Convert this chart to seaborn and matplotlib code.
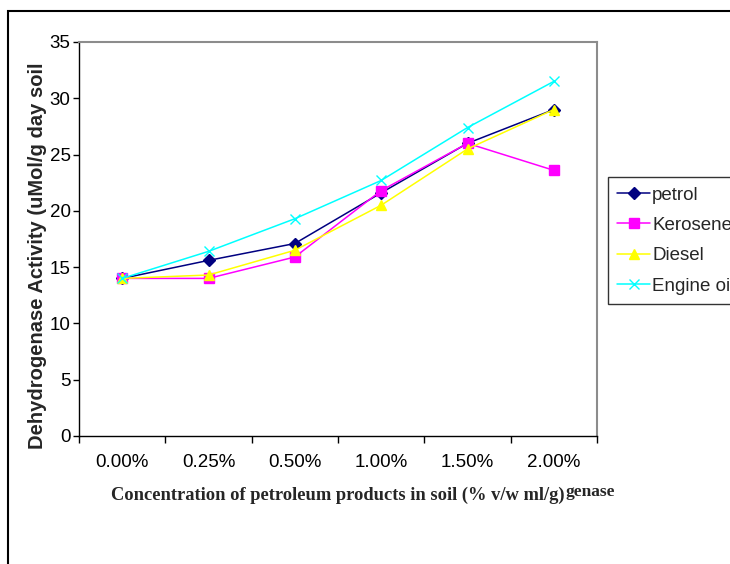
import numpy as np
import pandas as pd
import matplotlib
matplotlib.use("Agg")
import matplotlib.pyplot as plt
from matplotlib.patches import Rectangle
from matplotlib.ticker import FixedLocator, NullFormatter
import seaborn as sns

# Dehydrogenase activity per petroleum product and soil concentration
concentrations = ["0.00%", "0.25%", "0.50%", "1.00%", "1.50%", "2.00%"]
petrol = [14.0, 15.6, 17.1, 21.6, 26.0, 29.0]
kerosene = [14.0, 14.0, 15.9, 21.8, 26.0, 23.6]
diesel = [14.0, 14.3, 16.5, 20.5, 25.5, 29.0]
engine_oil = [14.0, 16.4, 19.3, 22.7, 27.4, 31.5]
series_names = ["petrol", "Kerosene", "Diesel", "Engine oil"]
y_ticks = [0, 5, 10, 15, 20, 25, 30, 35]

series_values = [petrol, kerosene, diesel, engine_oil]
positions = np.arange(len(concentrations))

sns.set_style("white")
plt.rcParams["font.family"] = ["Liberation Sans", "DejaVu Sans"]
SERIF = ["Liberation Serif", "DejaVu Serif"]

W, H = 730, 564
fig = plt.figure(figsize=(W / 100, H / 100), dpi=100)
fig.patch.set_facecolor("white")

# plot-area rectangle in pixel coordinates
left, right, top, bottom = 79, 597, 42, 436
ax = fig.add_axes([left / W, 1 - bottom / H, (right - left) / W, (bottom - top) / H])

colors = ["#000080", "#FF00FF", "#FFFF00", "#00FFFF"]
marker_shapes = ["D", "s", "^", "x"]
marker_sizes = [6, 6.5, 7.5, 7.5]

for name, values, color, mk, ms in zip(series_names, series_values, colors, marker_shapes, marker_sizes):
    d = pd.DataFrame({"pos": positions, "activity": values})
    sns.lineplot(data=d, x="pos", y="activity", color=color, marker=mk, markersize=ms,
                 markeredgecolor=color, markerfacecolor=color, markeredgewidth=1.0,
                 linewidth=1.1, label=name, ax=ax)

ax.set_xlim(-0.5, len(concentrations) - 0.5)
ax.set_ylim(0, 35)
ax.set_yticks(y_ticks)
ax.set_yticklabels([str(t) for t in y_ticks])
ax.set_xticks(positions)
ax.set_xticklabels(concentrations)
ax.xaxis.set_minor_locator(FixedLocator(np.arange(-0.5, len(concentrations), 1.0)))
ax.xaxis.set_minor_formatter(NullFormatter())
ax.tick_params(axis="x", which="major", length=0, pad=13, labelsize=13.5, colors="black")
ax.tick_params(axis="x", which="minor", length=5, width=1, direction="out", color="black", bottom=True)
ax.tick_params(axis="y", length=4, width=1, direction="out", pad=2, labelsize=13.5, colors="black", left=True)

for side in ("left", "bottom"):
    ax.spines[side].set_color("black")
    ax.spines[side].set_linewidth(1.0)
for side in ("top", "right"):
    ax.spines[side].set_color("#8c8c8c")
    ax.spines[side].set_linewidth(1.5)

ax.set_xlabel("")
ax.set_ylabel("")
fig.text(38 / W, 1 - 256 / H, "Dehydrogenase Activity (uMol/g day soil", rotation=90,
         ha="center", va="center", fontsize=14.5, fontweight="bold")

fig.text(338 / W, 1 - 500 / H, "Concentration of petroleum products in soil (% v/w ml/g)",
         ha="center", va="baseline", fontsize=13.3, fontweight="bold", family=SERIF)
fig.text(565 / W, 1 - 496.5 / H, "genase", ha="left", va="baseline", fontsize=12.5,
         fontweight="bold", family=SERIF)

handles, labels = ax.get_legend_handles_labels()
ax.get_legend().remove()
leg = fig.legend(handles, labels, loc="upper left", bbox_to_anchor=(608 / W, 1 - 177 / H),
                 frameon=True, fancybox=False, edgecolor="black", fontsize=13.5,
                 handlelength=1.76, handletextpad=0.1, labelspacing=0.71,
                 borderpad=0.5, borderaxespad=0)
leg.get_frame().set_linewidth(1.0)

# outer chart frame
fig.patches.append(Rectangle((8 / W, -0.1), 1.2, 1.1 - 11 / H, transform=fig.transFigure,
                             fill=False, edgecolor="black", linewidth=1.5))

fig.savefig("out.png", dpi=100)
